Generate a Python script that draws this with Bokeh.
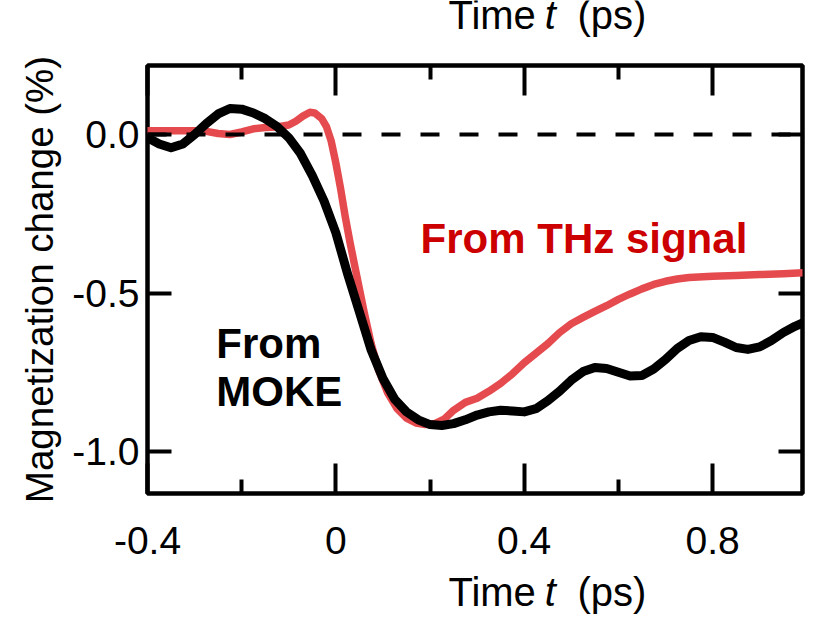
from bokeh.plotting import figure
from bokeh.layouts import column
from bokeh.models import Range1d, LinearAxis, FixedTicker, Label, Span, CustomJSTickFormatter, PrintfTickFormatter
from bokeh.core.properties import value
from bokeh.embed import file_html
from bokeh.resources import INLINE

# ---- data ----
moke_t = [-0.40, -0.375, -0.35, -0.325, -0.30, -0.275, -0.25, -0.225, -0.20, -0.175,
          -0.15, -0.125, -0.10, -0.075, -0.05, -0.025, 0.0, 0.025, 0.05, 0.075,
          0.10, 0.125, 0.15, 0.175, 0.20, 0.225, 0.25, 0.275, 0.30, 0.325,
          0.35, 0.375, 0.40, 0.425, 0.45, 0.475, 0.50, 0.525, 0.55, 0.575,
          0.60, 0.625, 0.65, 0.675, 0.70, 0.725, 0.75, 0.775, 0.80, 0.825,
          0.85, 0.875, 0.90, 0.925, 0.95, 0.975, 0.995]
moke_v = [-0.010, -0.030, -0.042, -0.030, 0.000, 0.035, 0.065, 0.082, 0.080, 0.068,
          0.050, 0.025, -0.010, -0.060, -0.130, -0.210, -0.310, -0.440, -0.560, -0.680,
          -0.770, -0.835, -0.875, -0.900, -0.915, -0.918, -0.912, -0.900, -0.885, -0.875,
          -0.870, -0.872, -0.875, -0.865, -0.840, -0.810, -0.775, -0.748, -0.735, -0.738,
          -0.750, -0.762, -0.760, -0.740, -0.710, -0.675, -0.650, -0.638, -0.640, -0.655,
          -0.672, -0.678, -0.670, -0.650, -0.625, -0.605, -0.592]

thz_t = [-0.40, -0.35, -0.30, -0.275, -0.25, -0.225, -0.20, -0.175, -0.15, -0.125,
         -0.10, -0.085, -0.07, -0.055, -0.045, -0.03, -0.02, -0.01, 0.0, 0.01,
         0.02, 0.03, 0.045, 0.06, 0.075, 0.09, 0.11, 0.13, 0.15, 0.17,
         0.19, 0.21, 0.23, 0.25, 0.275, 0.30, 0.325, 0.35, 0.375, 0.40,
         0.425, 0.45, 0.475, 0.50, 0.525, 0.55, 0.575, 0.60, 0.625, 0.65,
         0.675, 0.70, 0.725, 0.75, 0.80, 0.85, 0.90, 0.95, 0.995]
thz_v = [0.012, 0.012, 0.012, 0.010, 0.003, 0.000, 0.008, 0.018, 0.022, 0.024,
         0.030, 0.042, 0.058, 0.070, 0.068, 0.050, 0.025, -0.020, -0.090, -0.170,
         -0.260, -0.340, -0.450, -0.560, -0.660, -0.740, -0.815, -0.865, -0.895, -0.910,
         -0.915, -0.912, -0.898, -0.870, -0.845, -0.832, -0.810, -0.785, -0.755, -0.720,
         -0.690, -0.660, -0.625, -0.597, -0.577, -0.558, -0.540, -0.520, -0.503, -0.487,
         -0.473, -0.463, -0.456, -0.451, -0.447, -0.445, -0.442, -0.439, -0.436]

x_major = [-0.4, 0.0, 0.4, 0.8]
x_minor = [-0.2, 0.2, 0.6]
y_major = [-1.0, -0.5, 0.0]

x_title = ["Time", "t", "(ps)"]
y_title = "Magnetization change (%)"
label_thz = "From THz signal"
label_moke = ["From", "MOKE"]

FONT = "Liberation Sans"
BLACK = "#000000"
RED_LINE = "#e54b4e"
RED_TEXT = "#cc0000"

W = 818
TOP_H = 40      # strip holding the top axis title
BOT_H = 42      # strip holding the bottom axis title
MAIN_H = 617 - TOP_H - BOT_H

p = figure(width=W, height=MAIN_H, output_backend="svg", toolbar_location=None,
           title=None,
           x_range=Range1d(-0.4, 0.991), y_range=Range1d(-1.1325, 0.2177),
           x_axis_location=None, y_axis_location=None,
           min_border_left=147, min_border_right=16,
           min_border_top=65 - TOP_H, min_border_bottom=MAIN_H + TOP_H - 493)
p.xgrid.visible = False
p.ygrid.visible = False
p.outline_line_color = BLACK
p.outline_line_width = 4.5
p.background_fill_color = "white"
p.border_fill_color = "white"

xfmt = CustomJSTickFormatter(code="return tick == 0 ? '0' : tick.toFixed(1);")
blank = CustomJSTickFormatter(code="return '';")

def make_x_axis(show_labels):
    ax = LinearAxis(ticker=FixedTicker(ticks=x_major, minor_ticks=x_minor),
                    formatter=xfmt if show_labels else blank)
    ax.axis_line_color = None
    ax.major_tick_in = 30
    ax.major_tick_out = 0
    ax.minor_tick_in = 14
    ax.minor_tick_out = 0
    ax.major_tick_line_width = 4
    ax.minor_tick_line_width = 4
    ax.major_tick_line_color = BLACK
    ax.minor_tick_line_color = BLACK
    ax.major_label_text_font = FONT
    ax.major_label_text_color = BLACK
    ax.major_label_text_font_size = "39px"
    ax.major_label_standoff = 33
    return ax

def make_y_axis(show_labels):
    ax = LinearAxis(ticker=FixedTicker(ticks=y_major, minor_ticks=[]),
                    formatter=PrintfTickFormatter(format="%.1f") if show_labels else blank)
    ax.axis_line_color = None
    ax.major_tick_in = 24
    ax.major_tick_out = 0
    ax.minor_tick_in = 0
    ax.minor_tick_out = 0
    ax.major_tick_line_width = 4
    ax.major_tick_line_color = BLACK
    ax.major_label_text_font = FONT
    ax.major_label_text_color = BLACK
    ax.major_label_text_font_size = "39px"
    ax.major_label_standoff = 8
    if show_labels:
        ax.axis_label = y_title
        ax.axis_label_text_font = FONT
        ax.axis_label_text_font_size = "38.5px"
        ax.axis_label_text_font_style = "normal"
        ax.axis_label_text_color = BLACK
        ax.axis_label_standoff = 8
    return ax

p.add_layout(make_x_axis(True), "below")
p.add_layout(make_x_axis(False), "above")
p.add_layout(make_y_axis(True), "left")
p.add_layout(make_y_axis(False), "right")

# curves
p.line(thz_t, thz_v, line_color=RED_LINE, line_width=7.5, line_join="round", line_cap="round")
p.line(moke_t, moke_v, line_color=BLACK, line_width=9, line_join="round", line_cap="round")

# zero reference line
p.add_layout(Span(location=0.0, dimension="width", line_color=BLACK,
                  line_width=4, line_dash="19 20"))

def lab(x, y, text, **kw):
    opts = dict(text_font=FONT, text_font_size="42px", text_color=BLACK,
                text_baseline="alphabetic", text_align="left", text_font_style="bold")
    opts.update(kw)
    p.add_layout(Label(x=x, y=y, text=text, x_units="data", y_units="data", **opts))

# annotations inside the frame
lab(0.180, -0.328, label_thz, text_color=RED_TEXT)
lab(-0.254, -0.659, label_moke[0])
lab(-0.254, -0.811, label_moke[1])

# strips for the x-axis titles ("Time t (ps)" with italic t), top and bottom
def title_strip(h, baseline_from_bottom):
    f = figure(width=W, height=h, output_backend="svg", toolbar_location=None,
               title=None,
               x_range=Range1d(0, W), y_range=Range1d(0, h),
               x_axis_location=None, y_axis_location=None,
               min_border=0, min_border_left=0, min_border_right=0,
               min_border_top=0, min_border_bottom=0)
    f.xgrid.visible = False
    f.ygrid.visible = False
    f.outline_line_color = None
    f.background_fill_color = "white"
    f.border_fill_color = "white"
    common = dict(text_font=value(FONT), text_font_size="40px", text_color=BLACK,
                  text_baseline="alphabetic")
    yb = baseline_from_bottom
    f.text(x=[485], y=[yb], text=[x_title[0]], text_align="right", **common)
    f.text(x=[503], y=[yb], text=[x_title[1]], text_align="center",
           text_font_style="italic", **common)
    f.text(x=[537], y=[yb], text=[x_title[2]], text_align="left", **common)
    return f

top = title_strip(TOP_H, 26)
bottom = title_strip(BOT_H, 26)

layout = column(top, p, bottom, spacing=0)
open("out.html", "w").write(file_html(layout, INLINE))
